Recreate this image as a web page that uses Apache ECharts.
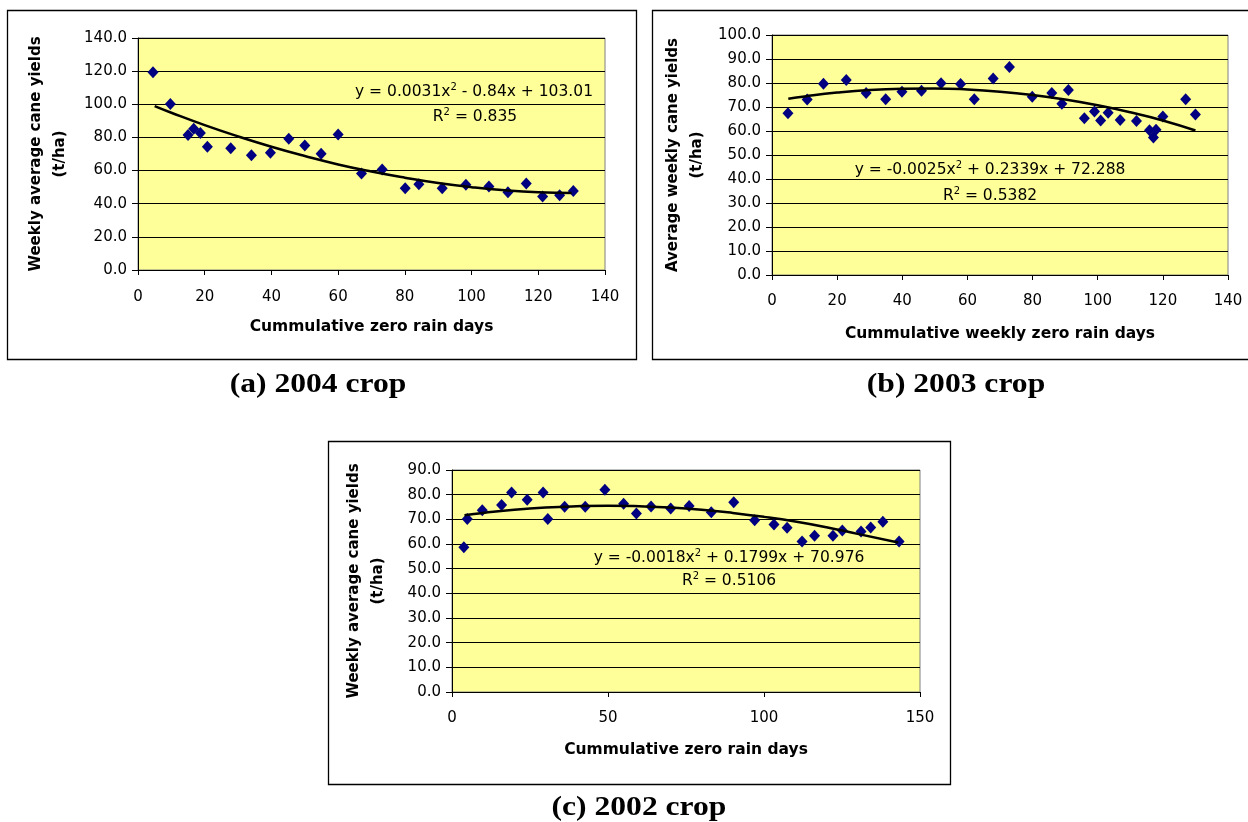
<!DOCTYPE html>
<html>
<head>
<meta charset="utf-8">
<script src="https://cdn.jsdelivr.net/npm/echarts@6/dist/echarts.min.js"></script>
<style>
html,body{margin:0;padding:0;background:#fff;}
#chart{width:1248px;height:822px;}
</style>
</head>
<body>
<div id="chart"></div>
<script>
// ---------- (a) 2004 crop ----------
var xA = [4.5, 9.7, 15, 16.7, 18.7, 20.8, 27.8, 34, 39.7, 45.2, 50, 54.9, 60, 67, 73.2, 80.1, 84.2, 91.2, 98.3, 105.2, 110.9, 116.4, 121.3, 126.4, 130.5];
var yA = [119.3, 100.1, 81.4, 85.2, 82.6, 74.3, 73.5, 69.3, 70.7, 79.2, 75.1, 70.1, 81.8, 58.2, 60.6, 49.4, 51.8, 49.4, 51.4, 50.4, 46.9, 52.2, 44.3, 45.1, 47.7];
var trendXA = [5, 10, 20, 30, 40, 50, 60, 70, 80, 90, 100, 110, 120, 130];
var trendYA = [98.9, 94.9, 87.4, 80.6, 74.4, 68.8, 63.7, 59.4, 55.7, 52.5, 50.0, 48.1, 46.9, 46.5];
var yTicksA = [0, 140, 20];
var xTicksA = [0, 140, 20];

// ---------- (b) 2003 crop ----------
var xB = [4.9, 10.8, 15.8, 22.8, 28.9, 34.9, 39.9, 45.9, 51.9, 57.9, 62.1, 67.9, 72.9, 79.9, 85.9, 89, 91, 95.9, 99, 100.9, 103.2, 106.9, 111.9, 115.9, 117.1, 117.9, 120, 127, 130];
var yB = [67.4, 73.1, 79.7, 81.3, 75.8, 73.2, 76.4, 76.8, 79.9, 79.6, 73.2, 81.9, 86.7, 74.3, 75.8, 71.4, 77.1, 65.3, 68.1, 64.4, 67.6, 64.6, 64.2, 60.3, 57.3, 60.5, 66.0, 73.2, 66.9];
var trendXB = [5, 10, 20, 30, 40, 50, 60, 70, 80, 90, 100, 110, 120, 130];
var trendYB = [73.4, 74.4, 76.0, 77.1, 77.6, 77.7, 77.3, 76.4, 75.0, 73.1, 70.7, 67.8, 64.4, 60.2];
var yTicksB = [0, 100, 10];
var xTicksB = [0, 140, 20];

// ---------- (c) 2002 crop ----------
var xC = [3.8, 4.9, 9.7, 15.9, 19.1, 24.1, 29.2, 30.7, 36.1, 42.7, 49, 55, 59.1, 63.8, 70.1, 76, 83.1, 90.3, 97, 103.2, 107.4, 112.2, 116.2, 122.1, 125.1, 131.1, 134.2, 138.1, 143.3];
var yC = [58.7, 70.1, 73.7, 75.8, 80.9, 77.9, 80.9, 70.1, 75.1, 75.1, 82.0, 76.3, 72.4, 75.2, 74.4, 75.4, 72.9, 76.9, 69.6, 67.9, 66.6, 61.0, 63.3, 63.3, 65.5, 65.1, 66.7, 69.0, 61.0];
var trendXC = [4, 10, 20, 30, 40, 50, 60, 70, 80, 90, 100, 110, 120, 130, 143];
var trendYC = [71.7, 72.6, 73.9, 74.8, 75.3, 75.5, 75.3, 74.8, 73.9, 72.6, 71.0, 69.1, 66.8, 64.1, 60.6];
var yTicksC = [0, 90, 10];
var xTicksC = [0, 150, 50];

var titlesY = ['Weekly average cane yields\n(t/ha)', 'Average weekly cane yields\n(t/ha)', 'Weekly average cane yields\n(t/ha)'];
var titlesX = ['Cummulative zero rain days', 'Cummulative weekly zero rain days', 'Cummulative zero rain days'];
var captions = ['(a) 2004 crop', '(b) 2003 crop', '(c) 2002 crop'];
var equations = [
  ['y = 0.0031x{s|2} - 0.84x + 103.01', 'R{s|2} = 0.835'],
  ['y = -0.0025x{s|2} + 0.2339x + 72.288', 'R{s|2} = 0.5382'],
  ['y = -0.0018x{s|2} + 0.1799x + 70.976', 'R{s|2} = 0.5106']
];

function zip(xs, ys) { return xs.map(function (x, i) { return [x, ys[i]]; }); }

var SANS = 'DejaVu Sans';
var grids = [
  {left: 138, top: 38, width: 467, height: 232},
  {left: 772, top: 35, width: 456, height: 240},
  {left: 452, top: 470, width: 468, height: 222}
];
var yTicks = [yTicksA, yTicksB, yTicksC];
var xTicks = [xTicksA, xTicksB, xTicksC];
var yNameGap = [66, 63, 62];
var xNameGap = [49, 51, 50];
var xLabelMargin = [20, 19, 19];

var option = {
  animation: false,
  backgroundColor: '#ffffff',
  grid: grids.map(function (g) {
    return Object.assign({show: true, backgroundColor: '#FFFF99', borderColor: '#808080', borderWidth: 1, containLabel: false}, g);
  }),
  xAxis: [0, 1, 2].map(function (i) {
    return {
      type: 'value', gridIndex: i,
      min: xTicks[i][0], max: xTicks[i][1], interval: xTicks[i][2],
      name: titlesX[i], nameLocation: 'middle', nameGap: xNameGap[i],
      nameTextStyle: {fontFamily: SANS, fontWeight: 'bold', fontSize: 15.5, color: '#000'},
      axisLine: {show: true, onZero: false, lineStyle: {color: '#000', width: 1}},
      axisTick: {show: true, inside: false, length: 5, lineStyle: {color: '#000'}},
      axisLabel: {fontFamily: SANS, fontSize: 15, color: '#000', margin: xLabelMargin[i]},
      splitLine: {show: false}
    };
  }),
  yAxis: [0, 1, 2].map(function (i) {
    return {
      type: 'value', gridIndex: i,
      min: yTicks[i][0], max: yTicks[i][1], interval: yTicks[i][2],
      name: titlesY[i], nameLocation: 'middle', nameRotate: 90, nameGap: yNameGap[i],
      nameTextStyle: {fontFamily: SANS, fontWeight: 'bold', fontSize: 15, lineHeight: 24, color: '#000'},
      axisLine: {show: true, onZero: false, lineStyle: {color: '#000', width: 1}},
      axisTick: {show: true, inside: false, length: 6, lineStyle: {color: '#000'}},
      axisLabel: {fontFamily: SANS, fontSize: 15, color: '#000', margin: 11,
        formatter: function (v) { return v.toFixed(1); }},
      splitLine: {show: true, lineStyle: {color: '#000', width: 1}}
    };
  }),
  series: [],
  graphic: []
};

var pts = [zip(xA, yA), zip(xB, yB), zip(xC, yC)];
var trends = [zip(trendXA, trendYA), zip(trendXB, trendYB), zip(trendXC, trendYC)];
for (var i = 0; i < 3; i++) {
  option.series.push({
    type: 'scatter', xAxisIndex: i, yAxisIndex: i, data: pts[i],
    symbol: 'diamond', symbolSize: [11, 12],
    itemStyle: {color: '#000080', opacity: 1}, z: 3
  });
  option.series.push({
    type: 'line', xAxisIndex: i, yAxisIndex: i, data: trends[i],
    smooth: true, showSymbol: false, symbol: 'none',
    lineStyle: {color: '#000', width: 2.5}, z: 4
  });
}

// frames
var boxes = [
  {x: 7.5, y: 10.5, width: 629, height: 349},
  {x: 652.5, y: 10.5, width: 610, height: 349},
  {x: 328.5, y: 441.5, width: 622, height: 343}
];
boxes.forEach(function (b) {
  option.graphic.push({type: 'rect', shape: b, style: {fill: 'none', stroke: '#000', lineWidth: 1.3}, silent: true, z: 100});
});

// captions
var capPos = [[318, 385], [956, 385], [639, 808]];
captions.forEach(function (c, i) {
  option.graphic.push({
    type: 'text', x: capPos[i][0], y: capPos[i][1], scaleX: 1.17, z: 100,
    style: {text: c, font: 'bold 27px "Liberation Serif"', fill: '#000', align: 'center', verticalAlign: 'middle'}
  });
});

// equation annotations
var eqPos = [[[474, 92], [475, 117]], [[990, 170], [990, 196]], [[729, 558], [729, 581]]];
var rich = {s: {fontFamily: SANS, fontSize: 10, verticalAlign: 'top', lineHeight: 20, padding: [0, 0, 6, 0], fill: '#000'}};
equations.forEach(function (pair, i) {
  pair.forEach(function (t, j) {
    option.graphic.push({
      type: 'text', x: eqPos[i][j][0], y: eqPos[i][j][1], z: 100,
      style: {text: t, fontFamily: SANS, fontSize: 15.5, lineHeight: 18, fill: '#000', align: 'center', verticalAlign: 'middle', rich: rich}
    });
  });
});

var chart = echarts.init(document.getElementById('chart'), null, {renderer: 'canvas'});
chart.setOption(option);
</script>
</body>
</html>
